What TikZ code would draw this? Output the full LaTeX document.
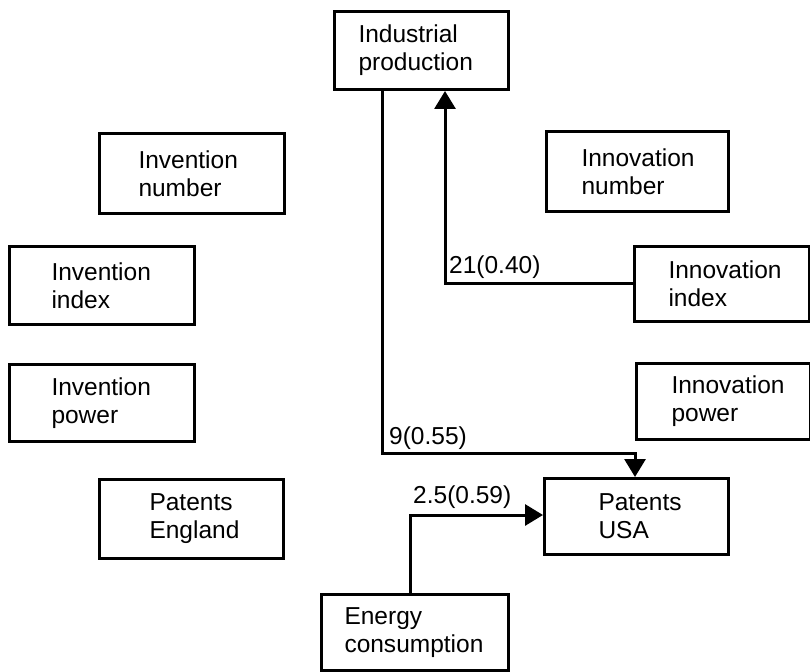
\documentclass[tikz,border=0pt]{standalone}
\usepackage{fontspec}
\setmainfont{Liberation Sans}
\usetikzlibrary{arrows.meta}
\newcommand{\twol}[3]{\hspace*{#1pt}#2\\\hspace*{#1pt}#3}
\begin{document}
\begin{tikzpicture}[x=1pt,y=-1pt,
  box/.style={draw, line width=3pt, inner sep=0pt, anchor=north west,
    align=left, font=\fontsize{24.5}{28}\selectfont},
  conn/.style={line width=3pt},
  arr/.style={conn, -{Triangle[width=21pt,length=18pt]}},
  lbl/.style={anchor=base west, inner sep=0pt, font=\fontsize{24.5}{28}\selectfont}]
\useasboundingbox (0,0) rectangle (810,671);
\node[box, minimum width=174pt, minimum height=78pt, text width=174pt] (ip) at (333,10) {\twol{24}{Industrial}{production}};
\node[box, minimum width=185pt, minimum height=80pt, text width=185pt] (inum) at (98,132) {\twol{39}{Invention}{number}};
\node[box, minimum width=185pt, minimum height=78pt, text width=185pt] (iidx) at (8,245) {\twol{42}{Invention}{index}};
\node[box, minimum width=185pt, minimum height=77pt, text width=185pt] (ipow) at (8,363) {\twol{42}{Invention}{power}};
\node[box, minimum width=184pt, minimum height=79pt, text width=184pt] (pe) at (98,478) {\twol{50}{Patents}{England}};
\node[box, minimum width=182pt, minimum height=80pt, text width=182pt] (onum) at (545,130) {\twol{35}{Innovation}{number}};
\node[box, minimum width=175pt, minimum height=75pt, text width=175pt] (oidx) at (633,245) {\twol{34}{Innovation}{index}};
\node[box, minimum width=174pt, minimum height=76pt, text width=174pt] (opow) at (635,362) {\twol{35}{Innovation}{power}};
\node[box, minimum width=184pt, minimum height=76pt, text width=184pt] (pusa) at (543,477) {\twol{54}{Patents}{USA}};
\node[box, minimum width=187pt, minimum height=76pt, text width=187pt] (ec) at (320,593) {\twol{23}{Energy}{consumption}};

\coordinate (k1) at (382,453);
\coordinate (k2) at (635,453);
\coordinate (k3) at (445,283);
\coordinate (k4) at (410,515);

\draw[arr] (ip.south -| k1) -- (k1) -- (k2) -- (pusa.north -| k2);
\draw[arr] (oidx.west |- k3) -- (k3) -- (ip.south -| k3);
\draw[arr] (ec.north -| k4) -- (k4) -- (pusa.west |- k4);

\node[lbl] (l1) at (449,273) {21(0.40)};
\node[lbl] (l2) at (389,444) {9(0.55)};
\node[lbl] (l3) at (413,503) {2.5(0.59)};
\end{tikzpicture}
\end{document}
